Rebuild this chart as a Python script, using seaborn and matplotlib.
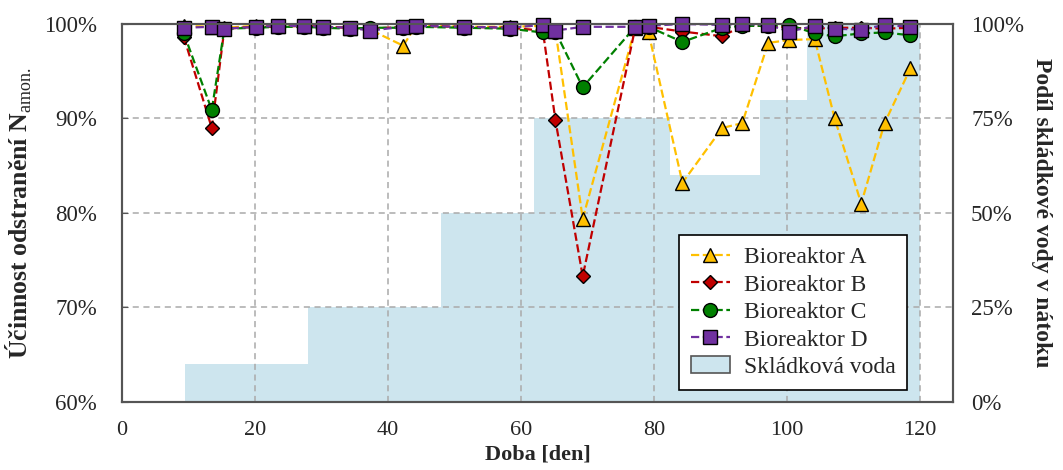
import pandas as pd
import matplotlib
matplotlib.use("Agg")
import matplotlib.pyplot as plt
import seaborn as sns
from matplotlib.ticker import PercentFormatter
from matplotlib.patches import Patch

# Data (days, removal efficiency in %)
days = [9.3, 13.5, 15.4, 20.2, 23.4, 27.3, 30.3, 34.3, 37.3, 42.3, 44.2, 51.4, 58.3, 63.3,
        65.2, 69.3, 77.2, 79.2, 84.3, 90.3, 93.3, 97.2, 100.4, 104.2, 107.2, 111.2, 114.7, 118.6]
reactor_a = [99.8, 99.7, 99.6, 99.8, 99.8, 99.8, 99.7, 99.6, 99.4, 97.7, 99.8, 99.7, 99.7, 99.8,
             99.3, 79.4, 99.6, 99.1, 83.2, 89.0, 89.5, 98.0, 98.3, 98.4, 90.0, 81.0, 89.5, 95.3]
reactor_b = [98.6, 89.0, 99.5, 99.7, 99.7, 99.8, 99.7, 99.6, 99.5, 99.7, 99.8, 99.7, 99.6, 99.3,
             89.8, 73.3, 99.6, 99.7, 99.2, 98.7, 99.8, 99.8, 99.6, 99.5, 99.6, 99.6, 99.5, 99.6]
reactor_c = [99.0, 90.9, 99.5, 99.6, 99.7, 99.7, 99.6, 99.5, 99.6, 99.6, 99.7, 99.6, 99.5, 99.1,
             99.2, 93.3, 99.7, 99.7, 98.1, 99.6, 99.8, 99.8, 99.9, 99.0, 98.7, 99.0, 99.1, 98.8]
reactor_d = [99.6, 99.7, 99.5, 99.7, 99.8, 99.8, 99.7, 99.6, 99.3, 99.7, 99.8, 99.7, 99.6, 99.9,
             99.3, 99.7, 99.7, 99.8, 100.0, 99.9, 100.0, 99.9, 99.2, 99.8, 99.5, 99.4, 99.9, 99.7]

# Landfill leachate share in influent (%), step changes
landfill_days = [9.5, 28, 48, 62, 82.5, 96, 103, 120]
landfill_share = [10, 25, 50, 75, 60, 80, 100, 100]

series = [
    ("Bioreaktor A", reactor_a, "#FFC000", "^", 10),
    ("Bioreaktor B", reactor_b, "#C00000", "D", 7.5),
    ("Bioreaktor C", reactor_c, "#008000", "o", 10),
    ("Bioreaktor D", reactor_d, "#7030A0", "s", 10),
]

sns.set_style("white")
plt.rcParams['font.family'] = ['Liberation Serif', 'DejaVu Serif']
plt.rcParams['mathtext.fontset'] = 'custom'
plt.rcParams['mathtext.rm'] = 'Liberation Serif'

fig = plt.figure(figsize=(10.63, 4.70), dpi=100)
ax = fig.add_axes([0.1148, 0.1447, 0.7817, 0.8043])
ax2 = ax.twinx()

# leachate share as background area on the secondary axis
ax2.fill_between(landfill_days, landfill_share, step="post", color="#CDE5EE", linewidth=0)
ax2.set_ylim(0, 100)
ax2.set_yticks([0, 25, 50, 75, 100])
ax2.yaxis.set_major_formatter(PercentFormatter(100, decimals=0))
ax2.tick_params(axis="y", labelsize=16.5, length=0, pad=13)
ax2.set_ylabel("Podíl skládkové vody v nátoku", fontsize=17, fontweight="bold",
               rotation=270, labelpad=20)

ax.set_zorder(ax2.get_zorder() + 1)
ax.patch.set_visible(False)

for name, vals, color, marker, ms in series:
    df = pd.DataFrame({"Doba": days, "val": vals})
    sns.lineplot(data=df, x="Doba", y="val", ax=ax, color=color, linestyle="--",
                 linewidth=1.6, marker=marker, markersize=ms, markeredgecolor="black",
                 markeredgewidth=1.0, label=name, clip_on=False)

ax.set_xlim(0, 125)
ax.set_ylim(60, 100)
ax.set_xticks(range(0, 121, 20))
ax.set_yticks(range(60, 101, 10))
ax.yaxis.set_major_formatter(PercentFormatter(100, decimals=0))
ax.tick_params(axis="y", labelsize=16.5, length=4, direction="in", color="#555555", pad=18)
ax.tick_params(axis="x", labelsize=16, pad=14, length=0)
ax.grid(True, linestyle=(0, (4, 3)), color="#AAAAAA", linewidth=1.1)
ax.set_xlabel("Doba [den]", fontsize=16, fontweight="bold", labelpad=3)
ax.set_ylabel(r"Účinnost odstranění N$_{\rm amon.}$", fontsize=18.5, fontweight="bold", labelpad=7)

for a in (ax, ax2):
    for s in a.spines.values():
        s.set_color("#555555")
        s.set_linewidth(1.5)

handles, labels = ax.get_legend_handles_labels()
handles.append(Patch(facecolor="#CDE5EE", edgecolor="#555555", linewidth=1.2))
labels.append("Skládková voda")
leg = ax.legend(handles, labels, loc="upper left", fontsize=17, frameon=True,
                fancybox=False, edgecolor="black", framealpha=1, borderpad=0.5,
                handlelength=1.65, handletextpad=0.6, labelspacing=0.25, borderaxespad=0,
                bbox_to_anchor=(0.670, 0.442))
leg.get_frame().set_linewidth(1.2)

fig.savefig("out.png", dpi=100)
